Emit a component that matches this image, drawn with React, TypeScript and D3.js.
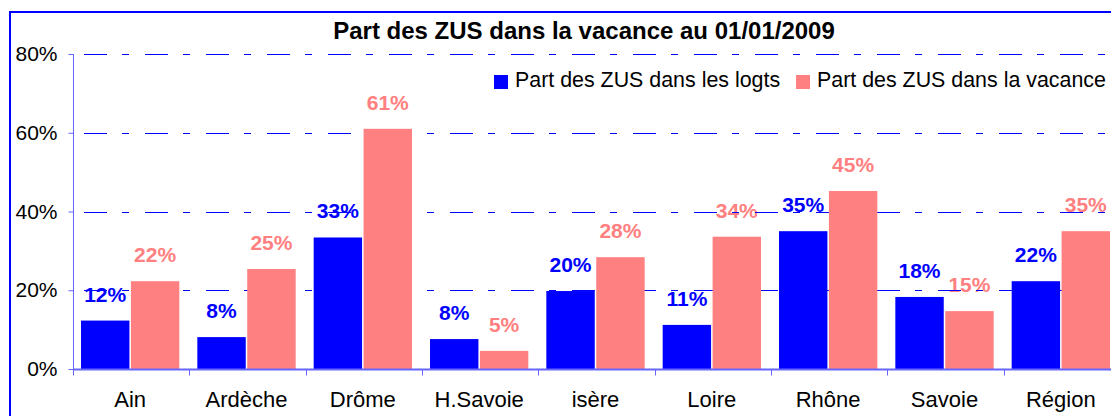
import { useEffect, useRef } from "react";
import * as d3 from "d3";

const categories = ["Ain", "Ardèche", "Drôme", "H.Savoie", "isère", "Loire", "Rhône", "Savoie", "Région"];
const seriesNames = ["Part des ZUS dans les logts", "Part des ZUS dans la vacance"];
const logtsValues = [12.3, 8.1, 33.4, 7.6, 19.8, 11.2, 35.0, 18.3, 22.3];
const vacanceValues = [22.3, 25.4, 61.0, 4.6, 28.4, 33.6, 45.2, 14.7, 35.0];
const yTicks = [0, 20, 40, 60, 80];
const colors = ["#0000ff", "#ff8080"];

const FONT = "'Liberation Sans', Arial, sans-serif";

const App = () => {
    const svgRef = useRef<SVGSVGElement>(null);

    useEffect(() => {
        const width = 1111;
        const height = 416;
        const left = 73;
        const right = 1120;
        const top = 54;
        const bottom = 369;

        const svg = d3.select(svgRef.current);
        svg.selectAll("*").remove();

        svg.append("rect")
            .attr("width", width).attr("height", height)
            .attr("fill", "#fff");

        // outer frame (only top/left fall inside the picture)
        svg.append("rect")
            .attr("x", 10).attr("y", 12)
            .attr("width", 1120).attr("height", 420)
            .attr("fill", "none")
            .attr("stroke", "#0000ff")
            .attr("stroke-width", 2);

        const x0 = d3.scaleBand().domain(categories).range([left, right]);
        const x1 = d3.scaleBand().domain(seriesNames)
            .range([8, x0.bandwidth() - 10])
            .paddingInner(0.03);
        const y = d3.scaleLinear().domain([0, 80]).range([bottom, top]);

        const rows = categories.map((c, i) => ({ cat: c, vals: [logtsValues[i], vacanceValues[i]] }));

        // title
        svg.append("text")
            .attr("x", 584).attr("y", 39)
            .attr("text-anchor", "middle")
            .style("font-family", FONT)
            .style("font-size", "24px")
            .style("font-weight", "bold")
            .text("Part des ZUS dans la vacance au 01/01/2009");

        // data labels (drawn under grid, like the original)
        const labels = svg.append("g");
        rows.forEach(r => {
            r.vals.forEach((v, j) => {
                labels.append("text")
                    .attr("x", (x0(r.cat) as number) + (x1(seriesNames[j]) as number) + x1.bandwidth() / 2)
                    .attr("y", y(v) - 19)
                    .attr("text-anchor", "middle")
                    .style("font-family", FONT)
                    .style("font-size", "21px")
                    .style("font-weight", "bold")
                    .style("fill", colors[j])
                    .text(Math.round(v) + "%");
            });
        });

        // grid
        svg.append("g")
            .selectAll("line")
            .data(yTicks.filter(t => t > 0))
            .join("line")
            .attr("x1", left).attr("x2", width)
            .attr("y1", d => Math.round(y(d)) + 0.5)
            .attr("y2", d => Math.round(y(d)) + 0.5)
            .attr("stroke", "#0000ff")
            .attr("stroke-width", 1)
            .attr("stroke-dasharray", "23,15,7,16")
            .attr("stroke-dashoffset", -11);

        // bars
        svg.append("g")
            .selectAll("g")
            .data(rows)
            .join("g")
            .attr("transform", d => `translate(${x0(d.cat)},0)`)
            .selectAll("rect")
            .data(d => d.vals.map((v, j) => ({ v, j })))
            .join("rect")
            .attr("x", d => x1(seriesNames[d.j]) as number)
            .attr("width", x1.bandwidth())
            .attr("y", d => y(d.v))
            .attr("height", d => bottom - y(d.v))
            .attr("fill", d => colors[d.j]);

        // y axis
        const yAxis = d3.axisLeft(y)
            .tickValues(yTicks)
            .tickSize(5)
            .tickPadding(11)
            .tickFormat(d => d + "%");
        const yg = svg.append("g").attr("transform", `translate(${left + 0.5},0)`).call(yAxis);
        yg.select(".domain").attr("stroke", "#6666ff").attr("d", `M0,${top}V${bottom}`);
        yg.selectAll(".tick line").attr("stroke", "#6666ff");
        yg.selectAll(".tick text")
            .style("font-family", FONT)
            .style("font-size", "21px")
            .attr("fill", "#000");

        // x axis
        const xg = svg.append("g").attr("transform", `translate(0,${bottom + 0.5})`);
        xg.append("line")
            .attr("x1", left).attr("x2", width)
            .attr("stroke", "#6666ff").attr("stroke-width", 2);
        xg.selectAll("line.tick")
            .data(categories)
            .join("line")
            .attr("class", "tick")
            .attr("x1", d => Math.round(x0(d) as number) + 0.5)
            .attr("x2", d => Math.round(x0(d) as number) + 0.5)
            .attr("y1", 0).attr("y2", 6)
            .attr("stroke", "#6666ff");
        xg.selectAll("text")
            .data(categories)
            .join("text")
            .attr("x", d => (x0(d) as number) + x0.bandwidth() / 2 - 1)
            .attr("y", 37)
            .attr("text-anchor", "middle")
            .style("font-family", FONT)
            .style("font-size", "22px")
            .attr("fill", "#000")
            .text(d => d);

        // legend
        const legendX = [494, 796];
        const lg = svg.append("g");
        seriesNames.forEach((name, j) => {
            lg.append("rect")
                .attr("x", legendX[j]).attr("y", 75)
                .attr("width", 14).attr("height", 14)
                .attr("fill", colors[j]);
            lg.append("text")
                .attr("x", legendX[j] + 21).attr("y", 87)
                .style("font-family", FONT)
                .style("font-size", "21.4px")
                .attr("fill", "#000")
                .text(name);
        });
    }, []);

    return (
        <svg ref={svgRef} width="1111" height="416"
            style={{ position: "absolute", left: 0, top: 0, display: "block" }}></svg>
    );
};

export default App;
